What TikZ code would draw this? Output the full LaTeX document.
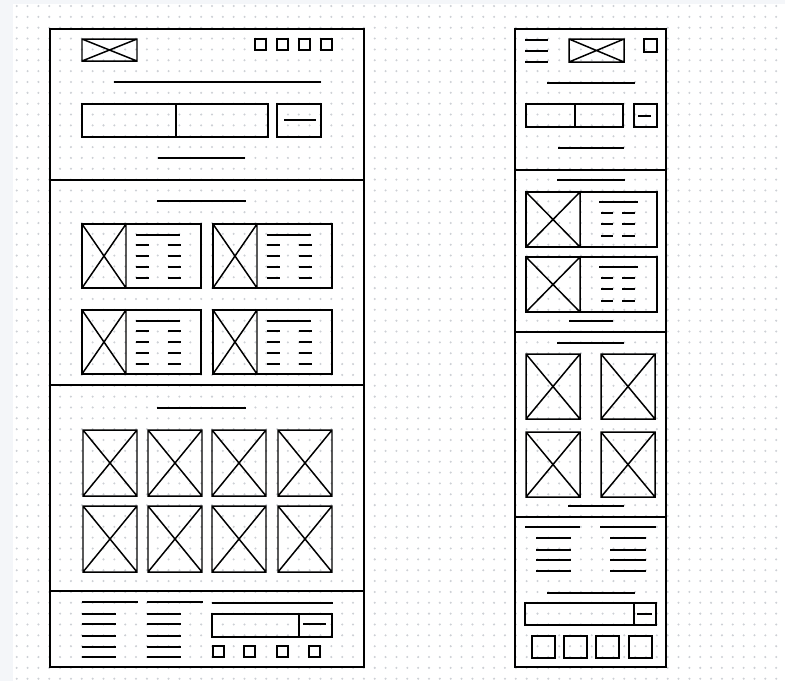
\documentclass[tikz,border=0pt]{standalone}
\usepackage{tikz}
\definecolor{pagebg}{HTML}{F4F6F9}
\definecolor{dotgray}{HTML}{CDD0D5}

\begin{document}
\begin{tikzpicture}[x=0.02cm, y=-0.02cm]
\tikzset{
  frame/.style={draw=black, line width=1.1pt},
  box/.style={draw=black, line width=0.85pt},
  ln/.style={draw=black, line width=0.95pt},
  pics/ximg/.style n args={2}{code={
    \draw[box] (0,0) rectangle (#1,#2) (0,0) -- (#1,#2) (0,#2) -- (#1,0);
  }},
}
\useasboundingbox (0,0) rectangle (785,681);
% canvas with dot grid
\fill[pagebg] (0,0) rectangle (785,681);
\fill[white] (13,4) rectangle (785,681);
\foreach \i in {0,...,70}
  \foreach \j in {0,...,62}
    \fill[dotgray] (16.7+10.85*\i, 6+10.85*\j) circle (0.65pt);

% ---- desktop layout ----
\draw[frame] (50,29) rectangle (364,667);
\foreach \y in {180,385,591}
  \draw[frame] (50,\y) -- (364,\y);
% header
\pic at (82,39) {ximg={55}{22}};
\foreach \x in {255,277,299,321}
  \draw[box] (\x,39) rectangle ++(11,11);
\draw[ln] (114,82) -- (321,82);
\draw[box] (82,104) rectangle (268,137) (176,104) -- (176,137);
\draw[box] (277,104) rectangle (321,137);
\draw[ln] (284,120) -- (316,120);
\draw[ln] (158,158) -- (245,158);
% cards
\draw[ln] (157,201) -- (246,201);
\foreach \cx in {82,213}
  \foreach \cy in {224,310} {
    \draw[box] (\cx,\cy) rectangle ++(119,64);
    \pic at (\cx,\cy) {ximg={44}{64}};
    \draw[ln] (\cx+54,\cy+11) -- ++(44,0);
    \foreach \dy in {21,32,43,54} {
      \draw[ln] (\cx+54,\cy+\dy) -- ++(13,0);
      \draw[ln] (\cx+86,\cy+\dy) -- ++(13,0);
    }
  }
% gallery
\draw[ln] (157,408) -- (246,408);
\foreach \x in {83,148,212,278}
  \foreach \y in {430,506}
    \pic at (\x,\y) {ximg={54}{66}};
% footer
\foreach \x in {82,147} {
  \draw[ln] (\x,602) -- ++(56,0);
  \foreach \y in {614,624,636,647,657}
    \draw[ln] (\x,\y) -- ++(34,0);
}
\draw[ln] (212,603) -- (333,603);
\draw[box] (212,614) rectangle (332,637) (299,614) -- (299,637);
\draw[ln] (303,624) -- (326,624);
\foreach \x in {213,244,277,309}
  \draw[box] (\x,646) rectangle ++(11,11);

% ---- mobile layout ----
\draw[frame] (515,29) rectangle (666,667);
\foreach \y in {170,332,517}
  \draw[frame] (515,\y) -- (666,\y);
% header
\foreach \y in {40,51,62}
  \draw[ln] (525,\y) -- (548,\y);
\pic at (569,39) {ximg={55}{23}};
\draw[box] (644,39) rectangle ++(13,13);
\draw[ln] (547,83) -- (635,83);
\draw[box] (526,104) rectangle (623,127) (575,104) -- (575,127);
\draw[box] (634,104) rectangle (657,127);
\draw[ln] (638,116) -- (651,116);
\draw[ln] (558,148) -- (624,148);
% cards
\draw[ln] (557,180) -- (625,180);
\foreach \cy in {192,257} {
  \draw[box] (526,\cy) rectangle ++(131,55);
  \pic at (526,\cy) {ximg={54}{55}};
  \draw[ln] (599,\cy+10) -- ++(39,0);
  \foreach \dy in {21,32,44} {
    \draw[ln] (601,\cy+\dy) -- ++(12,0);
    \draw[ln] (622,\cy+\dy) -- ++(13,0);
  }
}
\draw[ln] (569,321) -- (613,321);
% gallery
\draw[ln] (557,343) -- (624,343);
\foreach \x in {526,601}
  \foreach \y in {354,432}
    \pic at (\x,\y) {ximg={54}{65}};
\draw[ln] (568,506) -- (624,506);
% footer
\draw[ln] (525,527) -- (580,527);
\draw[ln] (600,527) -- (656,527);
\foreach \y in {538,550,560,571} {
  \draw[ln] (536,\y) -- ++(35,0);
  \draw[ln] (610,\y) -- ++(36,0);
}
\draw[ln] (547,593) -- (635,593);
\draw[box] (525,603) rectangle (656,625) (634,603) -- (634,625);
\draw[ln] (637,614) -- (652,614);
\foreach \x in {532,564,596,629}
  \draw[box] (\x,636) rectangle ++(23,22);
\end{tikzpicture}
\end{document}
